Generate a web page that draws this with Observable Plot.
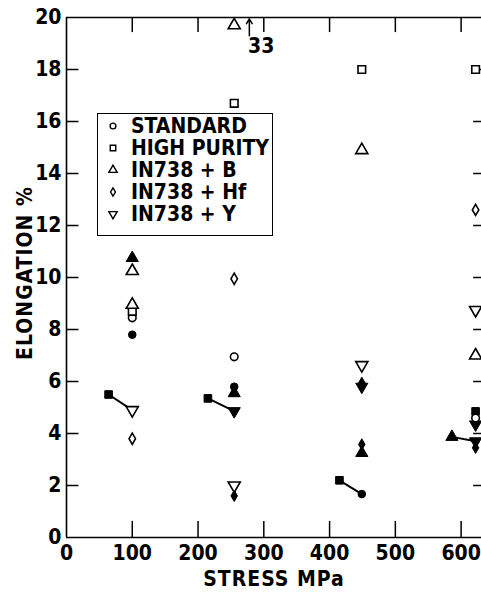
<!DOCTYPE html>
<html><head><meta charset="utf-8">
<script src="https://cdn.jsdelivr.net/npm/d3@7"></script>
<script src="https://cdn.jsdelivr.net/npm/@observablehq/plot@0.6"></script>
<style>
body{margin:0;background:#fff;}
#wrap{position:relative;width:481px;height:595px;overflow:hidden;font-family:"DejaVu Sans Condensed","DejaVu Sans",sans-serif;font-stretch:condensed;font-weight:bold;color:#000;}
.lab{position:absolute;font-size:21px;white-space:nowrap;line-height:1;letter-spacing:1px;}
#legend{position:absolute;left:97px;top:113px;width:176px;height:123px;border:1.6px solid #000;background:#fff;box-sizing:border-box;}
.row{position:absolute;left:0;height:20px;line-height:20px;font-size:21px;white-space:nowrap;}
.row svg{position:absolute;left:8px;top:3px;}
.row span{position:absolute;left:33px;top:0;}
</style></head>
<body>
<div id="wrap"></div>
<script>
// ---- data ----
const series = ["STANDARD", "HIGH PURITY", "IN738 + B", "IN738 + Hf", "IN738 + Y"];
const xTicks = [0, 100, 200, 300, 400, 500, 600];
const yTicks = [0, 2, 4, 6, 8, 10, 12, 14, 16, 18, 20];

const standardOpen     = [[100, 8.45], [255, 6.95], [622, 4.6]];
const standardFilled   = [[100, 7.8], [255, 5.8], [449, 1.67]];
const highPurityOpen   = [[100, 8.7], [255, 16.7], [449, 18.0], [622, 18.0]];
const highPurityFilled = [[64, 5.5], [215, 5.35], [415, 2.2], [622, 4.85]];
const boronOpen        = [[100, 10.25], [100, 8.95], [255, 33], [449, 14.9], [622, 7.0]];
const boronFilled      = [[100, 10.75], [255, 5.55], [449, 3.25], [586, 3.87]];
const hafniumOpen      = [[100, 3.8], [255, 9.95], [622, 12.6]];
const hafniumFilled    = [[255, 1.6], [449, 5.95], [449, 3.58], [622, 3.45]];
const yttriumOpen      = [[100, 4.9], [255, 2.0], [449, 6.63], [622, 8.75]];
const yttriumFilled    = [[255, 4.86], [449, 5.8], [622, 4.35], [622, 3.7]];
const connectors = [[64, 5.5, 100, 4.9], [215, 5.35, 255, 4.86], [415, 2.2, 449, 1.67], [586, 3.87, 622, 3.7]];
const offScale = [{stress: 278, from: 19.3, to: 19.95, label: "33", labelStress: 296, labelY: 18.9}];
const yMax = 20;

// ---- symbols ----
const triDown = {draw(ctx, size) {
  const y = -Math.sqrt(size / (Math.sqrt(3) * 3));
  ctx.moveTo(0, -y * 2); ctx.lineTo(-Math.sqrt(3) * y, y); ctx.lineTo(Math.sqrt(3) * y, y); ctx.closePath();
}};
const symbols = [d3.symbolCircle, d3.symbolSquare, d3.symbolTriangle, d3.symbolDiamond, triDown];
const radii = [3.8, 4.3, 4.5, 3.4, 4.5];
const openSets = [standardOpen, highPurityOpen, boronOpen, hafniumOpen, yttriumOpen];
const filledSets = [standardFilled, highPurityFilled, boronFilled, hafniumFilled, yttriumFilled];

const disp = v => Math.min(v, 19.7);
const dotMarks = [];
filledSets.forEach((set, i) => dotMarks.push(Plot.dot(set, {x: d => d[0], y: d => disp(d[1]), symbol: symbols[i], r: radii[i], fill: "#000", stroke: "#000", strokeWidth: 1})));
openSets.forEach((set, i) => dotMarks.push(Plot.dot(set, {x: d => d[0], y: d => disp(d[1]), symbol: symbols[i], r: radii[i], fill: "#fff", stroke: "#000", strokeWidth: 1.6})));

const inner = xTicks.filter(d => d > 0);
const innerY = yTicks.filter(d => d > 0 && d < yMax);

const chart = Plot.plot({
  width: 481, height: 595,
  marginTop: 17, marginBottom: 58, marginLeft: 66, marginRight: 0,
  x: {domain: [0, 631]},
  y: {domain: [0, yMax]},
  style: {fontFamily: '"DejaVu Sans Condensed","DejaVu Sans",sans-serif', fontSize: "21px", fontWeight: "bold", color: "#000", background: "#fff"},
  marks: [
    Plot.axisY(yTicks, {anchor: "left", tickSize: 0, tickPadding: 5, label: null, fontSize: 21}),
    Plot.axisX(xTicks, {anchor: "bottom", tickSize: 0, tickPadding: 8, label: null, fontSize: 21}),
    Plot.ruleX([0], {stroke: "#000", strokeWidth: 1.6}),
    Plot.ruleY([0, yMax], {stroke: "#000", strokeWidth: 1.6}),
    Plot.ruleX(inner, {x: d => d, y1: 0, y2: 0.62, stroke: "#000", strokeWidth: 1.5}),
    Plot.ruleX(inner, {x: d => d, y1: yMax - 0.58, y2: yMax, stroke: "#000", strokeWidth: 1.5}),
    Plot.ruleY(innerY, {y: d => d, x1: 0, x2: 19, stroke: "#000", strokeWidth: 1.5}),
    Plot.ruleY(innerY, {y: d => d, x1: 619, x2: 631, stroke: "#000", strokeWidth: 1.5}),
    Plot.link(connectors, {x1: d => d[0], y1: d => d[1], x2: d => d[2], y2: d => d[3], stroke: "#000", strokeWidth: 2}),
    ...dotMarks,
    Plot.arrow(offScale, {x1: d => d.stress, x2: d => d.stress, y1: d => d.from, y2: d => d.to, stroke: "#000", strokeWidth: 1.5, headLength: 6}),
    Plot.text(offScale, {x: d => d.labelStress, y: d => d.labelY, text: d => d.label, fontSize: 21, fill: "#000"})
  ]
});

const wrap = document.getElementById("wrap");
wrap.appendChild(chart);

// axis titles
const xl = document.createElement("div");
xl.className = "lab"; xl.textContent = "STRESS MPa";
xl.style.left = "274px"; xl.style.top = "579px"; xl.style.transform = "translate(-50%,-50%)";
wrap.appendChild(xl);
const yl = document.createElement("div");
yl.className = "lab"; yl.textContent = "ELONGATION %";
yl.style.left = "25px"; yl.style.top = "273px"; yl.style.transform = "translate(-50%,-50%) rotate(-90deg)";
wrap.appendChild(yl);

// legend
const leg = document.createElement("div");
leg.id = "legend";
series.forEach((name, i) => {
  const row = document.createElement("div");
  row.className = "row";
  row.style.top = (2 + i * 22) + "px";
  const path = d3.symbol(symbols[i], [26, 30, 30, 20, 30][i])();
  row.innerHTML = `<svg width="14" height="14" viewBox="-7 -7 14 14"><path d="${path}" fill="#fff" stroke="#000" stroke-width="1.4"/></svg><span>${name}</span>`;
  leg.appendChild(row);
});
wrap.appendChild(leg);
</script>
</body></html>
